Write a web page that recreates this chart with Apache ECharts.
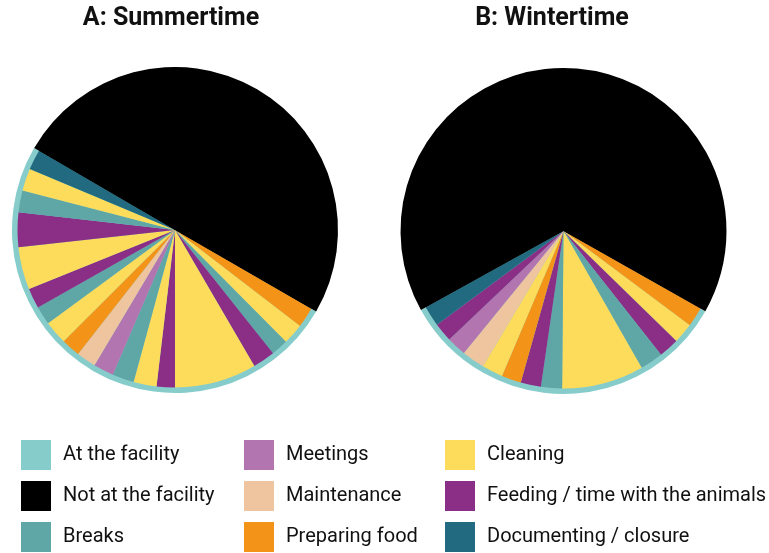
<!DOCTYPE html>
<html>
<head>
<meta charset="utf-8">
<script src="https://cdn.jsdelivr.net/npm/echarts@6/dist/echarts.min.js"></script>
<style>
html,body{margin:0;padding:0;background:#fff;}
#chart{width:769px;height:553px;}
</style>
</head>
<body>
<div id="chart"></div>
<script>
// Minutes per activity block (clockwise, starting at the end of "Not at the facility")
const summerActivities = ['Preparing food','Cleaning','Breaks','Feeding / time with the animals','Cleaning','Feeding / time with the animals','Cleaning','Breaks','Meetings','Maintenance','Preparing food','Cleaning','Breaks','Feeding / time with the animals','Cleaning','Feeding / time with the animals','Breaks','Cleaning','Documenting / closure'];
const summerMinutes = [30,31,25,33,121,27,34,32,30,29,28,35,27,30,63,51,32,33,30];
const summerAwayMinutes = 719;

const winterActivities = ['Preparing food','Cleaning','Feeding / time with the animals','Breaks','Cleaning','Breaks','Feeding / time with the animals','Preparing food','Cleaning','Maintenance','Meetings','Feeding / time with the animals','Documenting / closure'];
const winterMinutes = [29,30,30,34,121,31,30,29,31,34,29,28,30];
const winterAwayMinutes = 954;

const titles = ['A: Summertime','B: Wintertime'];
const legendColumns = [
  ['At the facility','Not at the facility','Breaks'],
  ['Meetings','Maintenance','Preparing food'],
  ['Cleaning','Feeding / time with the animals','Documenting / closure']
];

const colors = {
  'At the facility':'#86cccb',
  'Not at the facility':'#000000',
  'Breaks':'#5fa6a6',
  'Meetings':'#b275b0',
  'Maintenance':'#efc5a0',
  'Preparing food':'#f39419',
  'Cleaning':'#fcdc5a',
  'Feeding / time with the animals':'#8b2f86',
  'Documenting / closure':'#216a80'
};

const FONT = 'Roboto, "DejaVu Sans", sans-serif';

function innerData(names, mins, away){
  const d = names.map((n,i)=>({name:n, value:mins[i], itemStyle:{color:colors[n]}}));
  d.push({name:'Not at the facility', value:away, itemStyle:{color:colors['Not at the facility']}});
  return d;
}
function ringData(mins, away){
  const at = mins.reduce((a,b)=>a+b,0);
  return [
    {name:'At the facility', value:at, itemStyle:{color:colors['At the facility']}},
    {name:'Not at the facility', value:away, itemStyle:{color:colors['Not at the facility']}}
  ];
}

const pies = [
  {center:[175,230], start:-30, names:summerActivities, mins:summerMinutes, away:summerAwayMinutes},
  {center:[563.5,231], start:-29.5, names:winterActivities, mins:winterMinutes, away:winterAwayMinutes}
];
const R = 163, RIN = 157.5;

const series = [];
pies.forEach(p=>{
  series.push({
    type:'pie', center:p.center, radius:[0,R], startAngle:p.start, clockwise:true, z:1,
    label:{show:false}, labelLine:{show:false}, silent:true,
    itemStyle:{borderWidth:0}, emphasis:{disabled:true}, animation:false,
    data:ringData(p.mins,p.away)
  });
  series.push({
    type:'pie', center:p.center, radius:[0,RIN], startAngle:p.start, clockwise:true, z:2,
    label:{show:false}, labelLine:{show:false}, silent:true,
    itemStyle:{borderWidth:0}, emphasis:{disabled:true}, animation:false,
    data:innerData(p.names,p.mins,p.away)
  });
});

const legendLefts = [21,244,445];
const legends = legendColumns.map((col,i)=>({
  data:col, left:legendLefts[i], top:440, orient:'vertical', padding:0,
  itemWidth:30, itemHeight:30, itemGap:11, icon:'rect', selectedMode:false,
  textStyle:{fontFamily:FONT, fontSize:20, color:'#111', padding:[0,0,0,7]}
}));

const chart = echarts.init(document.getElementById('chart'), null, {renderer:'canvas'});
chart.setOption({
  backgroundColor:'#ffffff',
  animation:false,
  legend:legends,
  graphic:[
    {type:'text', x:171, y:19, style:{text:titles[0], align:'center', verticalAlign:'middle', textAlign:'center', textVerticalAlign:'middle', font:'bold 25px '+FONT, fill:'#111'}},
    {type:'text', x:552, y:19, style:{text:titles[1], align:'center', verticalAlign:'middle', textAlign:'center', textVerticalAlign:'middle', font:'bold 25px '+FONT, fill:'#111'}}
  ],
  series:series
});
</script>
</body>
</html>
